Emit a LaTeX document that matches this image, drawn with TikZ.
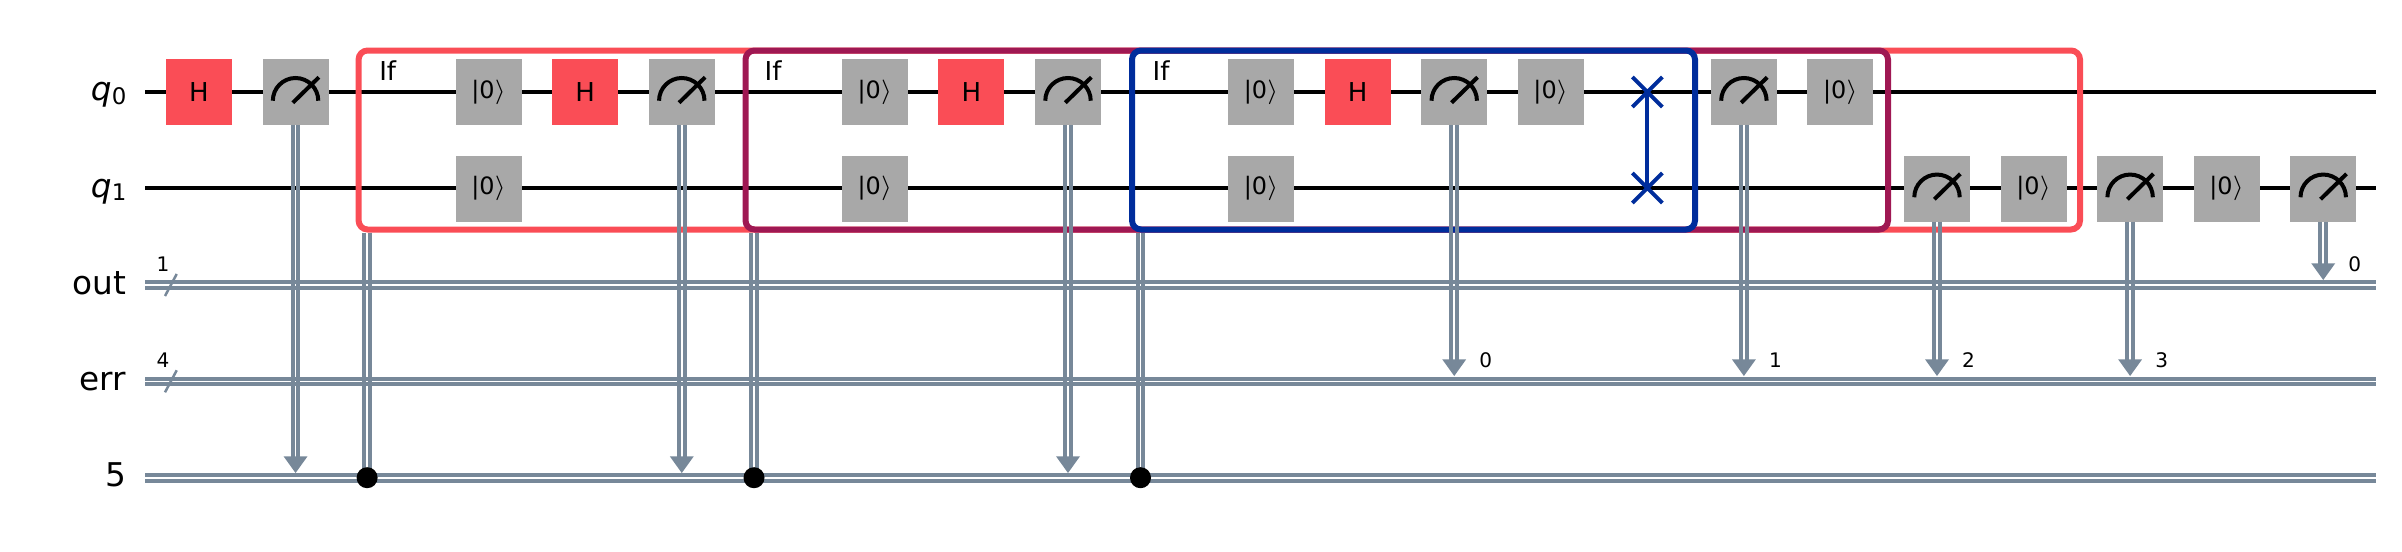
\documentclass[tikz,border=0pt]{standalone}
\usepackage{fontspec}
\setmainfont{DejaVu Sans}
\usetikzlibrary{positioning,fit,shapes.misc}

\definecolor{gatered}{HTML}{FA4D56}
\definecolor{gategrey}{HTML}{A8A8A8}
\definecolor{slate}{HTML}{778899}
\definecolor{ifred}{HTML}{FA4D56}
\definecolor{ifplum}{HTML}{9F1853}
\definecolor{ifblue}{HTML}{002D9C}

\newcommand{\ketzero}{|0$\rangle$}
% two thin lines, a bare gap in between
\newcommand{\creghoriz}[2]{
 \draw[cline] ([yshift=.028cm]#1) -- ([yshift=.028cm]#2);
 \draw[cline] ([yshift=-.028cm]#1) -- ([yshift=-.028cm]#2);
}
\newcommand{\cregvert}[2]{
 \draw[cline] ([xshift=-.028cm]#1) -- ([xshift=-.028cm]#2);
 \draw[cline] ([xshift=.028cm]#1) -- ([xshift=.028cm]#2);
}
% measure box, rail, digit
\newcommand{\measto}[3]{
 \coordinate (#1tip) at (#1.south |- #2);
 \coordinate (#1neck) at ([yshift=.1cm]#1tip);
 \cregvert{#1.south}{#1neck}
 \fill[slate] ([shift={(-.12cm,.167cm)}]#1tip) -- ([shift={(.12cm,.167cm)}]#1tip) -- (#1tip) -- cycle;
 \node (#1bit) [bitlabel] at ([shift={(.315cm,.16cm)}]#1tip) {#3};
}

\begin{document}
\begin{tikzpicture}[x=.01cm,y=-.01cm,
  node distance=.305cm,
  qline/.style={draw=black,line width=.04cm},
  cline/.style={draw=slate,line width=.04cm},
  gatebox/.style={minimum size=.66cm,inner sep=0pt,outer sep=0pt,
    font=\fontsize{7.4pt}{8pt}\selectfont},
  hgate/.style={gatebox,fill=gatered},
  rgate/.style={gatebox,fill=gategrey,font=\fontsize{6.8pt}{8pt}\selectfont},
  mgate/.style={gatebox,fill=gategrey,path picture={
    \draw[line width=.04cm] ([shift={(-.227cm,-.087cm)}]path picture bounding box.center)
      arc[start angle=180,end angle=0,radius=.227cm];
    \draw[line width=.04cm] ([shift={(-.027cm,-.107cm)}]path picture bounding box.center)
      -- ([shift={(.233cm,.147cm)}]path picture bounding box.center);
  }},
  ifbox/.style={draw=#1,line width=.06cm,rounded corners=.09cm,inner sep=0pt},
  iflabel/.style={inner sep=0pt,anchor=base west,font=\fontsize{7.4pt}{8pt}\selectfont},
  reglabel/.style={inner sep=0pt,anchor=base east,font=\fontsize{9.3pt}{10pt}\selectfont},
  bitlabel/.style={inner sep=0pt,font=\fontsize{5.7pt}{7pt}\selectfont},
  swapmark/.style={cross out,draw=ifblue,line width=.04cm,minimum size=.3cm,inner sep=0pt,outer sep=0pt},
  cdot/.style={circle,fill=black,minimum size=.21cm,inner sep=0pt},
  bitslash/.style={draw=slate,line width=.025cm}]

 \useasboundingbox (0,0) rectangle (2402,551);

 % wire ends
 \coordinate (q0s) at (145,91.7);
 \coordinate (q0e) at (2376,91.7);
 \coordinate (q1s) at (145,188);
 \coordinate (q1e) at (2376,188);
 \coordinate (outs) at (145,285);
 \coordinate (oute) at (2376,285);
 \coordinate (errs) at (145,381.3);
 \coordinate (erre) at (2376,381.3);
 \coordinate (cregs) at (145,477.7);
 \coordinate (crege) at (2376,477.7);

 \node (q0lab) [reglabel] at (127,100.7) {{\itshape q}\raisebox{-.035cm}{\fontsize{6.5pt}{7pt}\selectfont 0}};
 \node (q1lab) [reglabel] at (127,197) {{\itshape q}\raisebox{-.035cm}{\fontsize{6.5pt}{7pt}\selectfont 1}};
 \node (outlab) [reglabel] at (127,294) {out};
 \node (errlab) [reglabel] at (127,390.3) {err};
 \node (creglab) [reglabel] at (127,486.7) {5};

 \draw[qline] (q0s) -- (q0e);
 \draw[qline] (q1s) -- (q1e);
 \creghoriz{outs}{oute}
 \creghoriz{errs}{erre}
 \creghoriz{cregs}{crege}

 \draw[bitslash] ([shift={(.2cm,-.11cm)}]outs) -- ([shift={(.317cm,.11cm)}]outs);
 \draw[bitslash] ([shift={(.2cm,-.11cm)}]errs) -- ([shift={(.317cm,.11cm)}]errs);
 \node (outn) [bitlabel] at (163,264) {1};
 \node (errn) [bitlabel] at (163,360) {4};

 % nested if boxes
 \node (ifa) [ifbox=ifred,fit={(358.6,50.5)(2080,229.5)}] {};
 \node (ifb) [ifbox=ifplum,fit={(745.5,50.5)(1888,229.5)}] {};
 \node (ifc) [ifbox=ifblue,fit={(1132,50.5)(1695,229.5)}] {};
 \node (ifatext) [iflabel] at ([shift={(.23cm,-.325cm)}]ifa.north west) {If};
 \node (ifbtext) [iflabel] at ([shift={(.215cm,-.325cm)}]ifb.north west) {If};
 \node (ifctext) [iflabel] at ([shift={(.23cm,-.325cm)}]ifc.north west) {If};

 % upper wire
 \node (h1) [hgate] at (199,92) {H};
 \node (m1) [mgate,right=of h1] {};
 \node (r1) [rgate,right=1.27cm of m1] {\ketzero};
 \node (h2) [hgate,right=of r1] {H};
 \node (m2) [mgate,right=of h2] {};
 \node (r3) [rgate,right=1.27cm of m2] {\ketzero};
 \node (h3) [hgate,right=of r3] {H};
 \node (m3) [mgate,right=of h3] {};
 \node (r5) [rgate,right=1.27cm of m3] {\ketzero};
 \node (h4) [hgate,right=of r5] {H};
 \node (m4) [mgate,right=of h4] {};
 \node (r6) [rgate,right=of m4] {\ketzero};
 \node (sw0) [swapmark,right=.485cm of r6] {};
 \node (m5) [mgate,right=1.27cm of r6] {};
 \node (r7) [rgate,right=of m5] {\ketzero};

 % lower wire
 \node (r2) [rgate,below=of r1] {\ketzero};
 \node (r4) [rgate,below=of r3] {\ketzero};
 \node (r8) [rgate,below=of r5] {\ketzero};
 \node (sw1) [swapmark] at (sw0 |- q1s) {};
 \node (m6) [mgate,below right=.305cm and .305cm of r7] {};
 \node (r9) [rgate,right=of m6] {\ketzero};
 \node (m7) [mgate,right=of r9] {};
 \node (r10) [rgate,right=of m7] {\ketzero};
 \node (m8) [mgate,right=of r10] {};

 \draw[draw=ifblue,line width=.04cm] (sw0.center) -- (sw1.center);

 % conditions
 \coordinate (ifaleg) at ([xshift=.115cm]ifa.south west);
 \coordinate (ifbleg) at ([xshift=.115cm]ifb.south west);
 \coordinate (ifcleg) at ([xshift=.115cm]ifc.south west);
 \cregvert{ifaleg}{ifaleg |- cregs}
 \cregvert{ifbleg}{ifbleg |- cregs}
 \cregvert{ifcleg}{ifcleg |- cregs}
 \node (da) [cdot] at (ifaleg |- cregs) {};
 \node (db) [cdot] at (ifbleg |- cregs) {};
 \node (dc) [cdot] at (ifcleg |- cregs) {};

 % measurements
 \coordinate (outtip) at (0,280);
 \coordinate (errtip) at (0,376);
 \coordinate (cregtip) at (0,473);
 \measto{m1}{cregtip}{}
 \measto{m2}{cregtip}{}
 \measto{m3}{cregtip}{}
 \measto{m4}{errtip}{0}
 \measto{m5}{errtip}{1}
 \measto{m6}{errtip}{2}
 \measto{m7}{errtip}{3}
 \measto{m8}{outtip}{0}
\end{tikzpicture}
\end{document}
